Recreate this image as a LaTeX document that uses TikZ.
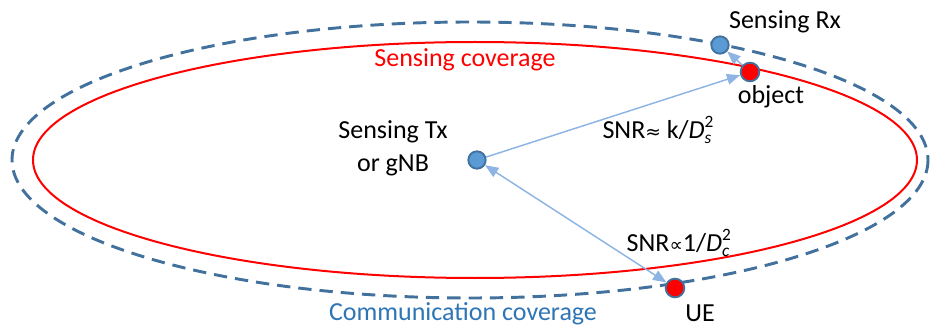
\documentclass[tikz,border=0pt]{standalone}
\usepackage{fontspec}
\setmainfont{Carlito}
\newfontfamily\symfont{DejaVu Sans}
\usetikzlibrary{arrows.meta}
\definecolor{dashblue}{HTML}{41719C}
\definecolor{fillblue}{HTML}{5B9BD5}
\definecolor{linkblue}{HTML}{8DB4E2}
\definecolor{textblue}{HTML}{2E75B6}
% D with subscript #1 and superscript 2
\newcommand{\Dsym}[1]{\textit{D}\rlap{\raisebox{0.42em}{\fontsize{13}{13}\selectfont 2}}\raisebox{-0.22em}{\fontsize{13}{13}\selectfont\textit{#1}}}
\tikzset{
  lbl/.style={font=\fontsize{19.5}{25}\selectfont, inner sep=0pt, align=center},
  station/.style={circle, draw=dashblue, line width=1.4pt, fill=fillblue, minimum size=13pt, inner sep=0pt},
  target/.style={circle, draw=dashblue, line width=1.4pt, fill=red, minimum size=14pt, inner sep=0pt},
  link/.style={draw=linkblue, line width=1.1pt},
  tip/.style={-{Triangle[length=10pt,width=8pt]}},
}
\begin{document}
\begin{tikzpicture}[x=0.75pt,y=-0.75pt]
\useasboundingbox (0,0) rectangle (933,328);
% coverage regions
\draw[dashblue, line width=2.2pt, dash pattern=on 10pt off 6pt] (470,160) ellipse [x radius=458, y radius=138];
\draw[red, line width=1.5pt] (475,160) ellipse [x radius=442, y radius=118];

% stations and targets
\node[station] (tx) at (477,160) {};
\node[target] (obj) at (750,72) {};
\node[station] (rx) at (720,45) {};
\node[target] (ue) at (675,288) {};

% links
\draw[link, tip] (tx) -- (obj);
\draw[link, tip] (obj) -- (rx);
\draw[link, {Triangle[length=10pt,width=8pt]}-{Triangle[length=10pt,width=8pt]}] (tx) -- (ue);

% labels
\node[lbl, text=red] (sc) at (465,60) {Sensing coverage};
\node[lbl] (rxl) at (785,22) {Sensing Rx};
\node[lbl] (objl) at (771,97) {object};
\node[lbl] (txl) at (393,148) {Sensing Tx\\or gNB};
\node[lbl] (snrs) at (657,130) {SNR{\symfont\fontsize{14}{14}\selectfont ≈} k/\Dsym{s}};
\node[lbl] (snrc) at (678,243) {SNR{\symfont\fontsize{14}{14}\selectfont ∝}1/\Dsym{c}};
\node[lbl] (uel) at (700,313) {UE};
\node[lbl, text=textblue] (cc) at (463,314) {Communication coverage};
\end{tikzpicture}
\end{document}
